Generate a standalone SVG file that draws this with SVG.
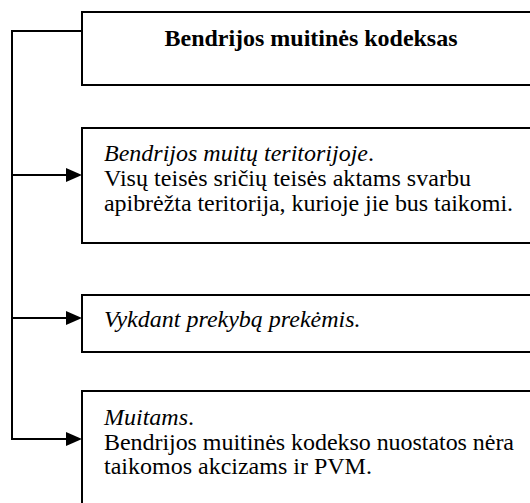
<svg xmlns="http://www.w3.org/2000/svg" width="530" height="503" viewBox="0 0 530 503">
<style>
.box{fill:#fff;stroke:#000;stroke-width:2}
.t{font-family:"Liberation Serif","Times New Roman",serif;font-size:24px;fill:#000}
.b{font-weight:bold}
.i{font-style:italic}
.c{fill:none;stroke:#000;stroke-width:2}
.ah{fill:#000}
</style>
<rect width="530" height="503" fill="#fff"/>
<g id="connectors">
<polyline class="c" points="82,31 12,31 12,439 66,439"/>
<line class="c" x1="12" y1="175" x2="66" y2="175"/>
<line class="c" x1="12" y1="318" x2="66" y2="318"/>
<polygon class="ah" points="66,168 82,175 66,182"/>
<polygon class="ah" points="66,311 82,318 66,325"/>
<polygon class="ah" points="66,432 82,439 66,446"/>
</g>
<g id="node1">
<rect class="box" x="82" y="12" width="460" height="73"/>
<text class="t b" x="311" y="45.5" text-anchor="middle" textLength="293" lengthAdjust="spacing">Bendrijos muitinės kodeksas</text>
</g>
<g id="node2">
<rect class="box" x="82" y="128" width="460" height="115"/>
<text class="t" x="104" y="161"><tspan class="i">Bendrijos muitų teritorijoje</tspan>.</text>
<text class="t" x="104" y="186" textLength="367" lengthAdjust="spacing">Visų teisės sričių teisės aktams svarbu</text>
<text class="t" x="104" y="211" textLength="409" lengthAdjust="spacing">apibrėžta teritorija, kurioje jie bus taikomi.</text>
</g>
<g id="node3">
<rect class="box" x="82" y="295" width="460" height="57"/>
<text class="t i" x="104" y="327">Vykdant prekybą prekėmis.</text>
</g>
<g id="node4">
<rect class="box" x="82" y="391" width="460" height="130"/>
<text class="t" x="104" y="425"><tspan class="i">Muitams</tspan>.</text>
<text class="t" x="104" y="449.5" textLength="410" lengthAdjust="spacing">Bendrijos muitinės kodekso nuostatos nėra</text>
<text class="t" x="104" y="474">taikomos akcizams ir PVM.</text>
</g>
</svg>
